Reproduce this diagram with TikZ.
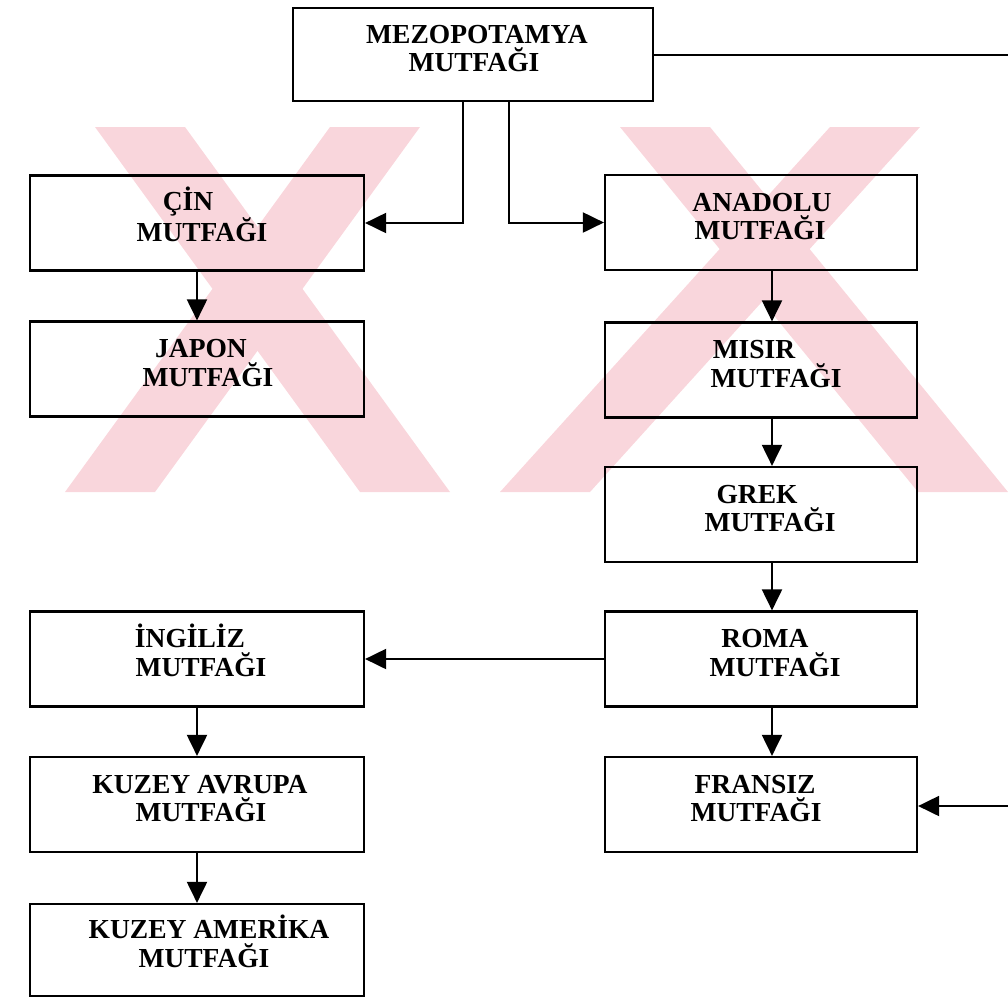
\documentclass[tikz,border=0pt]{standalone}
\usepackage{fontspec}
\setmainfont{Liberation Serif}
\usetikzlibrary{arrows.meta}
\definecolor{wm}{RGB}{249,214,220}
\begin{document}
\begin{tikzpicture}[x=1pt,y=-1pt,
  box/.style={draw, line width=2.2pt, fill=none, inner sep=0pt, align=center,
    font=\fontsize{27.5pt}{28.5pt}\selectfont\bfseries},
  lbox/.style={box, minimum width=334pt, minimum height=95pt},
  rbox/.style={box, minimum width=312pt, minimum height=95pt},
  conn/.style={line width=2pt},
  arr/.style={conn, -{Triangle[length=21pt,width=20pt]}}]
\newcommand\topln[2]{\rule{0pt}{26pt}\hspace*{#1pt}#2}
\newcommand\botln[2]{\hspace*{#1pt}#2\rule[-20pt]{0pt}{20pt}}
\useasboundingbox (0,0) rectangle (1008,999);
% watermark
\begin{scope}
\clip (0,127) rectangle (1008,492);
\fill[wm] (95,127) -- (185,127) -- (450,492) -- (360,492) -- cycle;
\fill[wm] (330,127) -- (420,127) -- (155,492) -- (65,492) -- cycle;
\fill[wm] (620,127) -- (710,127) -- (1008,492) -- (918,492) -- cycle;
\fill[wm] (830,127) -- (920,127) -- (590,492) -- (500,492) -- cycle;
\end{scope}
% boxes
\node[box, minimum width=360pt, minimum height=93pt] (mez) at (473,54.5) {\topln{8}{MEZOPOTAMYA}\\\botln{2}{MUTFAĞI}};
\node[lbox] (cin) at (197,223) {\topln{-18}{ÇİN}\\\botln{10}{MUTFAĞI}};
\node[rbox] (ana) at (761,222.5) {\topln{2}{ANADOLU}\\\botln{-2}{MUTFAĞI}};
\node[lbox] (jap) at (197,369) {\topln{8}{JAPON}\\\botln{22}{MUTFAĞI}};
\node[rbox] (mis) at (761,370) {\topln{-14}{MISIR}\\\botln{30}{MUTFAĞI}};
\node[rbox] (grk) at (761,514.5) {\topln{-8}{GREK}\\\botln{18}{MUTFAĞI}};
\node[rbox] (rom) at (761,659) {\topln{8}{ROMA}\\\botln{28}{MUTFAĞI}};
\node[lbox] (ing) at (197,659) {\topln{-14}{İNGİLİZ}\\\botln{8}{MUTFAĞI}};
\node[lbox] (kav) at (197,804.5) {\topln{6}{KUZEY AVRUPA}\\\botln{8}{MUTFAĞI}};
\node[rbox] (fra) at (761,804.5) {\topln{-12}{FRANSIZ}\\\botln{-10}{MUTFAĞI}};
\node[lbox, minimum height=92pt] (kam) at (197,950) {\topln{24}{KUZEY AMERİKA}\\\botln{14}{MUTFAĞI}};
% free ends at the right edge
\coordinate (outA) at (1008,55);
\coordinate (outB) at (1008,806);
% connectors
\draw[conn] (mez.east |- outA) -- (outA);
\draw[arr] (outB) -- (outB -| fra.east);
\draw[arr] ([xshift=-10pt]mez.south) |- (cin.east);
\draw[arr] ([xshift=36pt]mez.south) |- (ana.west);
\draw[arr] (cin.south) -- (jap.north);
\draw[arr] ([xshift=11pt]ana.south) -- ([xshift=11pt]mis.north);
\draw[arr] ([xshift=11pt]mis.south) -- ([xshift=11pt]grk.north);
\draw[arr] ([xshift=11pt]grk.south) -- ([xshift=11pt]rom.north);
\draw[arr] ([xshift=11pt]rom.south) -- ([xshift=11pt]fra.north);
\draw[arr] (rom.west) -- (ing.east);
\draw[arr] (ing.south) -- (kav.north);
\draw[arr] (kav.south) -- (kam.north);
\end{tikzpicture}
\end{document}
